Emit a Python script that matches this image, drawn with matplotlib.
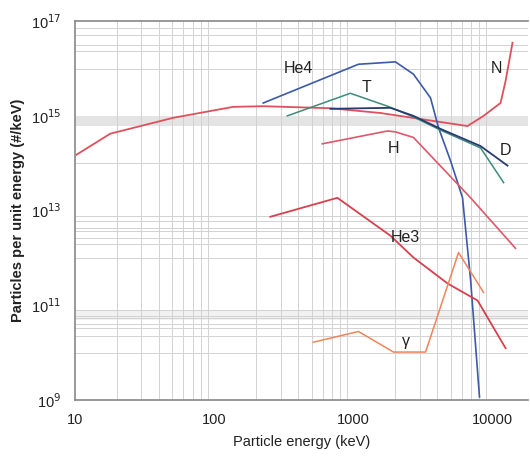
import matplotlib
matplotlib.use("Agg")
import matplotlib.pyplot as plt
import numpy as np
from matplotlib.ticker import FixedLocator, NullFormatter

plt.rcParams['font.family'] = ['Liberation Sans', 'DejaVu Sans']

# --- data (keV, particles per keV) ---
n_x = [10.2, 17.9, 50.7, 137, 225, 684, 1564, 3770, 6610, 8610, 11400, 12400, 13900]
n_y = [1.5e14, 4.2e14, 9.1e14, 1.55e15, 1.6e15, 1.45e15, 1.15e15, 7.8e14, 6.1e14, 1.0e15, 1.87e15, 5.5e15, 3.5e16]

he4_x = [225, 1087, 2005, 2700, 3580, 4090, 4990, 6080, 6950, 8050]
he4_y = [1.87e15, 1.23e16, 1.38e16, 7.6e15, 2.4e15, 5.6e14, 1.12e14, 1.86e13, 3.4e11, 1.16e9]

t_x = [335, 950, 1760, 2700, 4230, 8200, 12000]
t_y = [1.0e15, 3.0e15, 1.6e15, 9.5e14, 5.0e14, 2.1e14, 3.9e13]

d_x = [684, 1845, 2700, 4230, 8200, 12800]
d_y = [1.41e15, 1.48e15, 1.0e15, 5.3e14, 2.3e14, 8.9e13]

h_x = [598, 1760, 2000, 2700, 6950, 14600]
h_y = [2.57e14, 4.8e14, 4.6e14, 3.5e14, 1.86e13, 1.6e12]

he3_x = [253, 767, 1845, 2700, 4740, 7800, 12400]
he3_y = [7.4e12, 1.86e13, 2.95e12, 1.02e12, 2.9e11, 1.26e11, 1.24e10]

g_x = [515, 1087, 1940, 3300, 5690, 8610]
g_y = [1.66e10, 2.8e10, 1.03e10, 1.03e10, 1.3e12, 1.87e11]

labels = ["He4", "T", "N", "H", "D", "He3", "\u03b3"]
label_x = [402, 1242, 10700, 1940, 12400, 2365, 2365]
label_y = [9.8e15, 3.9e15, 9.8e15, 2.0e14, 1.9e14, 2.7e12, 1.7e10]

x_ticks = [10, 100, 1000, 10000]
x_ticklabels = ["10", "100", "1000", "10000"]
y_ticks = [1e9, 1e11, 1e13, 1e15, 1e17]
y_ticklabels = ["10$^{9}$", "10$^{11}$", "10$^{13}$", "10$^{15}$", "10$^{17}$"]

fig = plt.figure(figsize=(5.30, 4.57), dpi=100)
ax = fig.add_axes([0.1415, 0.1247, 0.855, 0.829])
ax.set_xscale('log')
ax.set_yscale('log')
ax.set_xlim(10, 18000)
ax.set_ylim(1e9, 1e17)

# grid
xminor = [m * 10**k for k in range(1, 5) for m in range(1, 10) if m * 10**k < 18000]
ax.xaxis.set_minor_locator(FixedLocator(xminor))
ax.xaxis.set_minor_formatter(NullFormatter())
ygrid = ([10.0**k for k in (10, 12, 14, 16)]
         + [m * 1e10 for m in (2.3, 3.3, 4, 5.3, 6, 8)]
         + [m * 1e12 for m in (2, 2.7, 3.7, 4.2, 6, 7.8)]
         + [m * 1e16 for m in (2.3, 3.2, 5, 7)])
ax.yaxis.set_minor_locator(FixedLocator(ygrid))
ax.yaxis.set_minor_formatter(NullFormatter())
ax.grid(True, which='minor', axis='both', color='#d2d2d2', lw=0.7)
ax.grid(False, which='major')
ax.axhspan(6e14, 1e15, color='#e4e4e4', lw=0, zorder=0)
ax.axhspan(5e10, 8e10, color='#f1f1f1', lw=0, zorder=0)
ax.set_axisbelow(True)

ax.set_xticks(x_ticks)
ax.set_xticklabels(x_ticklabels)
ax.set_yticks(y_ticks)
ax.set_yticklabels(y_ticklabels)
ax.tick_params(axis='x', which='both', length=0, labelsize=10.5, colors='#222222', pad=9)
ax.tick_params(axis='y', which='both', length=0, labelsize=10.5, colors='#222222', pad=10)

for s in ['left', 'bottom', 'top']:
    ax.spines[s].set_color('#888888')
    ax.spines[s].set_linewidth(1.2)
ax.spines['right'].set_visible(False)

ax.plot(n_x, n_y, color='#e0505c', lw=1.3)
ax.plot(he4_x, he4_y, color='#3b5aa8', lw=1.2)
ax.plot(t_x, t_y, color='#3a8c7c', lw=1.1)
ax.plot(d_x, d_y, color='#283a70', lw=1.3)
ax.plot(h_x, h_y, color='#e0566a', lw=1.2)
ax.plot(he3_x, he3_y, color='#d8404e', lw=1.3)
ax.plot(g_x, g_y, color='#f0845a', lw=1.1)

for lab, lx, ly in zip(labels, label_x, label_y):
    ax.text(lx, ly, lab, ha='center', va='center', fontsize=11.5, color='#222222')

ax.set_xlabel("Particle energy (keV)", fontsize=10.5, labelpad=6, color='#222222')
ax.set_ylabel("Particles per unit energy (#/keV)", fontsize=10.5, fontweight='bold', labelpad=4, color='#222222')

fig.savefig("out.png", dpi=100)
